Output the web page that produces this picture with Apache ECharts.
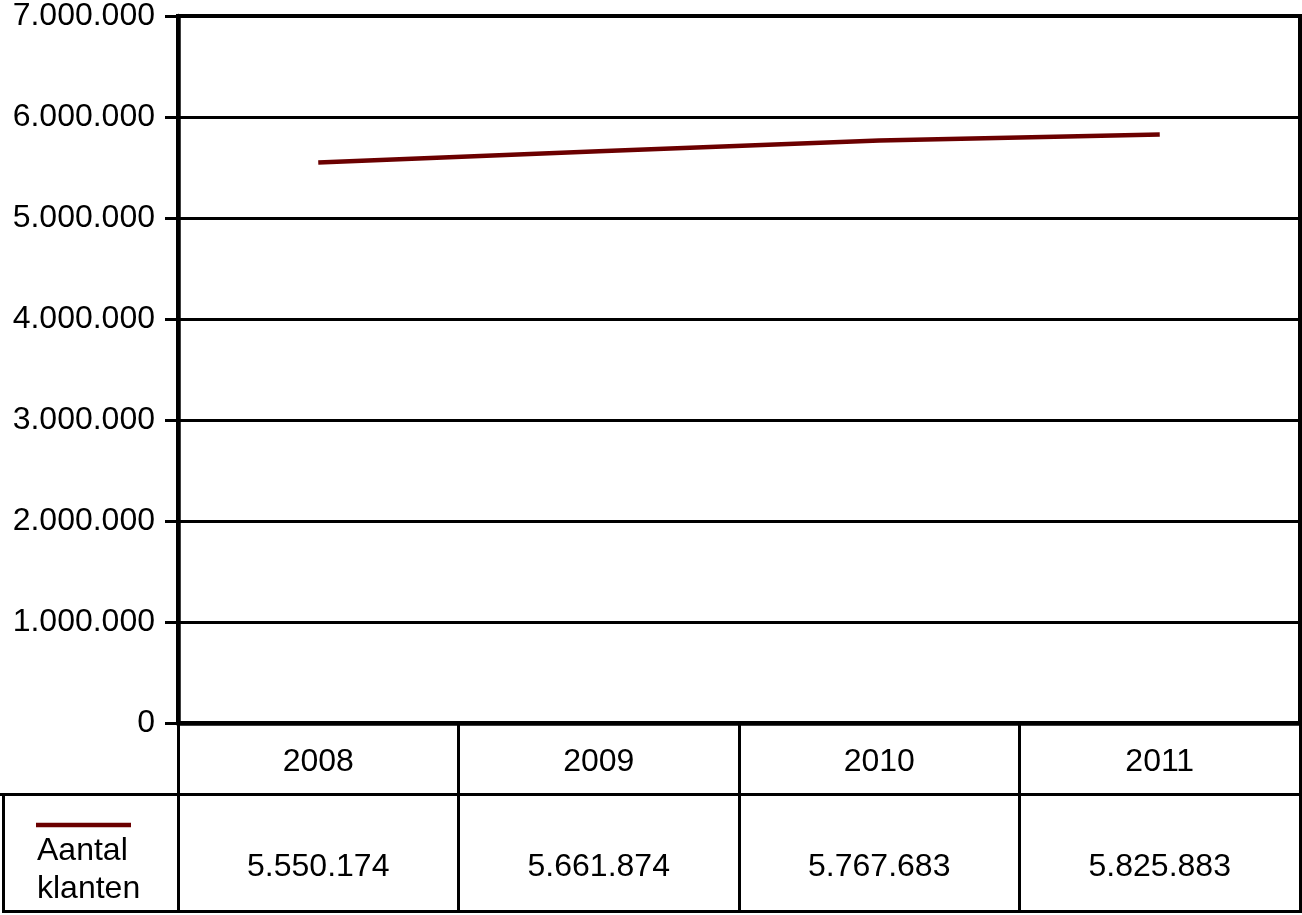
<!DOCTYPE html>
<html>
<head>
<meta charset="utf-8">
<script src="https://cdn.jsdelivr.net/npm/echarts@6/dist/echarts.min.js"></script>
<style>
html,body{margin:0;padding:0;background:#fff;}
#chart{width:1302px;height:915px;}
</style>
</head>
<body>
<div id="chart"></div>
<script>
const years = ['2008', '2009', '2010', '2011'];
const seriesName = 'Aantal klanten';
const klanten = [5550174, 5661874, 5767683, 5825883];
const yTicks = { min: 0, max: 7000000, interval: 1000000 };

function fmt(v) {
  return String(v).replace(/\B(?=(\d{3})+(?!\d))/g, '.');
}

const FONT = "'Liberation Sans', Arial, sans-serif";
const FS = 32;
const lineColor = '#6b0000';

const chart = echarts.init(document.getElementById('chart'));
chart.setOption({
  animation: false,
  backgroundColor: '#fff',
  grid: {
    left: 178, right: 2, top: 16, bottom: 192,
    show: true, borderColor: '#000', borderWidth: 4, backgroundColor: 'transparent'
  },
  xAxis: [
    {
      type: 'category',
      data: years,
      boundaryGap: true,
      position: 'bottom',
      axisLine: { show: true, lineStyle: { color: '#000', width: 4.5 } },
      axisTick: { show: true, inside: false, length: 189, lineStyle: { color: '#000', width: 3 } },
      axisLabel: { margin: 23, fontSize: FS, lineHeight: 32, color: '#000', fontFamily: FONT },
      splitLine: { show: false }
    },
    {
      type: 'category',
      data: klanten.map(fmt),
      boundaryGap: true,
      position: 'bottom',
      axisLine: { show: false },
      axisTick: { show: false },
      axisLabel: { margin: 128, fontSize: FS, lineHeight: 32, color: '#000', fontFamily: FONT },
      splitLine: { show: false }
    }
  ],
  yAxis: {
    type: 'value',
    min: yTicks.min, max: yTicks.max, interval: yTicks.interval,
    axisLine: { show: true, lineStyle: { color: '#000', width: 4.5 } },
    axisTick: { show: true, length: 13, lineStyle: { color: '#000', width: 3 } },
    axisLabel: { margin: 23, fontSize: FS, color: '#000', fontFamily: FONT, formatter: fmt },
    splitLine: { show: true, lineStyle: { color: '#000', width: 3 } }
  },
  series: [{
    name: seriesName,
    type: 'line',
    xAxisIndex: 0,
    data: klanten,
    showSymbol: false,
    symbol: 'none',
    lineStyle: { color: lineColor, width: 4.5 },
    itemStyle: { color: lineColor }
  }],
  graphic: [
    { type: 'line', shape: { x1: 0, y1: 794.5, x2: 1302, y2: 794.5 }, style: { stroke: '#000', lineWidth: 3 } },
    { type: 'line', shape: { x1: 2, y1: 911.5, x2: 1302, y2: 911.5 }, style: { stroke: '#000', lineWidth: 3 } },
    { type: 'line', shape: { x1: 3.5, y1: 794, x2: 3.5, y2: 913 }, style: { stroke: '#000', lineWidth: 3 } },
    { type: 'line', shape: { x1: 36, y1: 825, x2: 131, y2: 825 }, style: { stroke: lineColor, lineWidth: 4.5 } },
    { type: 'text', x: 37, y: 870, style: { text: seriesName.replace(' ', '\n'), font: FS + 'px ' + FONT, fill: '#000', lineHeight: 38, verticalAlign: 'middle', align: 'left' } }
  ]
});
</script>
</body>
</html>
